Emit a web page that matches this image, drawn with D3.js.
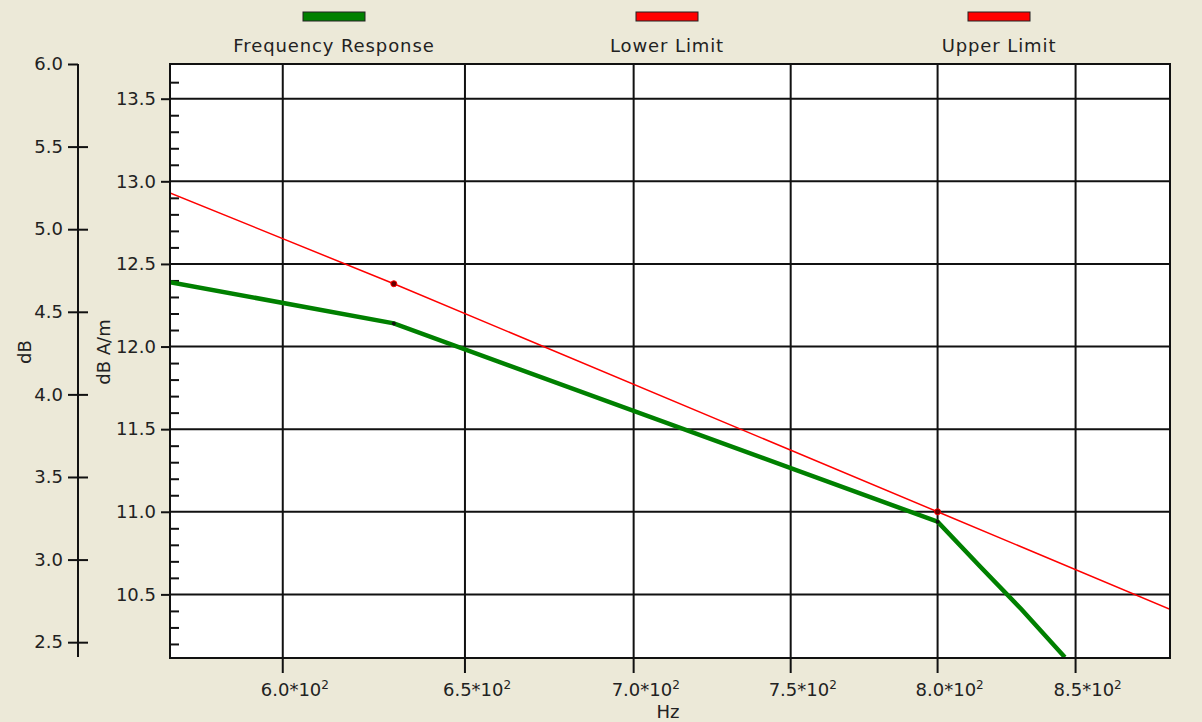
<!DOCTYPE html>
<html lang="en">
<head>
<meta charset="utf-8">
<title>Frequency Response</title>
<script src="https://d3js.org/d3.v7.min.js"></script>
<style>
  html, body { margin: 0; padding: 0; background: #ece9d8; }
  svg { display: block; }
  text { font-family: "DejaVu Sans", sans-serif; fill: #222; }
  .axis path, .axis line { stroke: #111; }
</style>
</head>
<body>
<div id="chart"></div>
<script>
// series (Hz, dB A/m)
var respFreq  = [571, 630, 800, 815, 830, 846];
var respValue = [12.39, 12.14, 10.94, 10.67, 10.41, 10.12];
var upperFreq  = [571, 630, 800, 886];
var upperValue = [12.93, 12.38, 11.00, 10.41];
var markerFreq = [630, 800];

var xTicks = [600, 650, 700, 750, 800, 850];
var xTickMantissa = ["6.0", "6.5", "7.0", "7.5", "8.0", "8.5"];
var yTicks = [10.5, 11.0, 11.5, 12.0, 12.5, 13.0, 13.5];
var yMinor = [10.2, 10.3, 10.4, 10.6, 10.7, 10.8, 10.9, 11.1, 11.2, 11.3, 11.4,
              11.6, 11.7, 11.8, 11.9, 12.1, 12.2, 12.3, 12.4, 12.6, 12.7, 12.8, 12.9,
              13.1, 13.2, 13.3, 13.4, 13.6];
var dbTicks = [2.5, 3.0, 3.5, 4.0, 4.5, 5.0, 5.5, 6.0];
var legendNames = ["Frequency Response", "Lower Limit", "Upper Limit"];
var legendColors = ["#008000", "#ff0000", "#ff0000"];

var W = 1202, H = 722;
var plot = {left: 170, right: 1170, top: 64, bottom: 658};

var svg = d3.select("#chart").append("svg")
  .attr("width", W).attr("height", H);

var x = d3.scaleLog().domain([571, 886]).range([plot.left, plot.right]);
var y = d3.scaleLinear().domain([10.115, 13.71]).range([plot.bottom, plot.top]);
var yDb = d3.scaleLinear().domain([2.4, 6.0]).range([658.7, 64]);

// plot background
svg.append("rect")
  .attr("x", plot.left).attr("y", plot.top)
  .attr("width", plot.right - plot.left).attr("height", plot.bottom - plot.top)
  .attr("fill", "#fff");

// grid
svg.append("g").selectAll("line").data(yTicks).enter().append("line")
  .attr("x1", plot.left).attr("x2", plot.right)
  .attr("y1", function(d) { return y(d); }).attr("y2", function(d) { return y(d); })
  .attr("stroke", "#111").attr("stroke-width", 2);
svg.append("g").selectAll("line").data(xTicks).enter().append("line")
  .attr("x1", function(d) { return x(d); }).attr("x2", function(d) { return x(d); })
  .attr("y1", plot.top).attr("y2", plot.bottom + 15)
  .attr("stroke", "#111").attr("stroke-width", 2);

// right (dB A/m) axis: outside majors, inside minors
svg.append("g")
  .attr("class", "axis")
  .attr("transform", "translate(" + plot.left + ",0)")
  .call(d3.axisLeft(y).tickValues(yTicks).tickSize(9).tickPadding(5)
        .tickFormat(d3.format(".1f")))
  .call(function(g) { g.select(".domain").remove(); })
  .call(function(g) { g.selectAll("line").attr("stroke-width", 2); })
  .call(function(g) { g.selectAll("text").style("font-size", "18px").attr("fill", "#222"); });

svg.append("g")
  .attr("class", "axis")
  .attr("transform", "translate(" + plot.left + ",0)")
  .call(d3.axisLeft(y).tickValues(yMinor).tickSize(-9).tickFormat(""))
  .call(function(g) { g.select(".domain").remove(); })
  .call(function(g) { g.selectAll("line").attr("stroke-width", 2); });

// far left (dB) axis
var dbAxis = svg.append("g")
  .attr("class", "axis")
  .attr("transform", "translate(78,0)")
  .call(d3.axisLeft(yDb).tickValues(dbTicks).tickSize(10).tickPadding(5)
        .tickFormat(d3.format(".1f")));
dbAxis.select(".domain").attr("d", "M0," + yDb(6.0) + "V" + 657).attr("stroke-width", 2);
dbAxis.selectAll("line").attr("x2", -10).attr("x1", 10).attr("stroke-width", 2);
dbAxis.selectAll(".tick").filter(function(d) { return d === 6.0; }).select("line").attr("x1", 0);
dbAxis.selectAll("text").style("font-size", "18px").attr("fill", "#222").attr("x", -15);

// x tick labels with superscript exponent
var xl = svg.append("g").selectAll("text").data(xTicks).enter().append("text")
  .attr("x", function(d) { return x(d) - 22; })
  .attr("y", 696)
  .style("font-size", "18px");
xl.append("tspan").text(function(d, i) { return xTickMantissa[i] + "*10"; });
xl.append("tspan").attr("dy", -7).style("font-size", "12px").text("2");

// axis titles
svg.append("text").attr("x", 668).attr("y", 718).attr("text-anchor", "middle")
  .style("font-size", "18px").text("Hz");
svg.append("text").attr("transform", "translate(31,352) rotate(-90)")
  .attr("text-anchor", "middle").style("font-size", "18px").text("dB");
svg.append("text").attr("transform", "translate(110,352) rotate(-90)")
  .attr("text-anchor", "middle").style("font-size", "18px").text("dB A/m");

// clip for series
svg.append("clipPath").attr("id", "clip").append("rect")
  .attr("x", plot.left).attr("y", plot.top)
  .attr("width", plot.right - plot.left).attr("height", plot.bottom - plot.top);

var line = d3.line()
  .x(function(d) { return x(d[0]); })
  .y(function(d) { return y(d[1]); });

var series = svg.append("g").attr("clip-path", "url(#clip)");
series.append("path")
  .datum(d3.zip(upperFreq, upperValue))
  .attr("d", line).attr("fill", "none")
  .attr("stroke", "#ff0000").attr("stroke-width", 1.5);
series.append("path")
  .datum(d3.zip(respFreq, respValue))
  .attr("d", line).attr("fill", "none")
  .attr("stroke", "#008000").attr("stroke-width", 4.5);

// markers at the data points shared by both series
markerFreq.forEach(function(f) {
  var ui = upperFreq.indexOf(f), ri = respFreq.indexOf(f);
  series.append("circle").attr("cx", x(f)).attr("cy", y(upperValue[ui]))
    .attr("r", 3).attr("fill", "#600").attr("stroke", "#ff0000").attr("stroke-width", 1);
  series.append("circle").attr("cx", x(f)).attr("cy", y(respValue[ri]))
    .attr("r", 2).attr("fill", "#111");
});

// plot frame
svg.append("rect")
  .attr("x", plot.left).attr("y", plot.top)
  .attr("width", plot.right - plot.left).attr("height", plot.bottom - plot.top)
  .attr("fill", "none").attr("stroke", "#111").attr("stroke-width", 2);

// legend
var legendX = [334, 667, 999];
var lg = svg.append("g").selectAll("g").data(legendNames).enter().append("g");
lg.append("rect")
  .attr("x", function(d, i) { return legendX[i] - 31; })
  .attr("y", 12).attr("width", 62).attr("height", 9)
  .attr("fill", function(d, i) { return legendColors[i]; })
  .attr("stroke", "#222").attr("stroke-width", 1);
lg.append("text")
  .attr("x", function(d, i) { return legendX[i]; })
  .attr("y", 52).attr("text-anchor", "middle")
  .style("font-size", "18px").style("letter-spacing", "0.9px")
  .text(function(d) { return d; });
</script>
</body>
</html>
